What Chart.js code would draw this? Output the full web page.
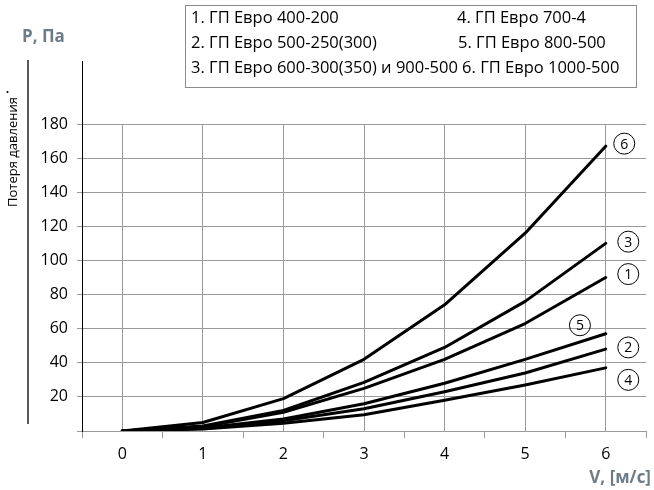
<!DOCTYPE html>
<html>
<head>
<meta charset="utf-8">
<script src="https://cdn.jsdelivr.net/npm/chart.js@4.4.1/dist/chart.umd.min.js"></script>
<style>
  body { margin: 0; background: #fff; }
  #wrap { width: 654px; height: 490px; }
</style>
</head>
<body>
<div id="wrap"><canvas id="lossChart" width="654" height="490"></canvas></div>
<script>
// Data
const speeds = [0, 1, 2, 3, 4, 5, 6];
const series1 = [0, 2.5, 11, 25, 42, 63, 90];
const series2 = [0, 1.5, 6, 13, 23, 34, 48];
const series3 = [0, 3, 12, 28.5, 49, 76, 110];
const series4 = [0, 1.2, 4.5, 9.5, 18, 27, 37];
const series5 = [0, 1.8, 7, 16, 28, 42, 57];
const series6 = [0, 5, 19, 42, 74, 116, 167];

const xTicks = [0, 1, 2, 3, 4, 5, 6];
const yTicks = [0, 20, 40, 60, 80, 100, 120, 140, 160, 180];

const legendLines = [
  '1. ГП Евро 400-200',
  '2. ГП Евро 500-250(300)',
  '3. ГП Евро 600-300(350) и 900-500 6. ГП Евро 1000-500'
];
const legendLines2 = ['4. ГП Евро 700-4', '5. ГП Евро 800-500'];

// circled curve numbers (data units)
const markNums = ['6', '3', '1', '5', '2', '4'];
const markX = [6.23, 6.28, 6.28, 5.68, 6.28, 6.28];
const markY = [168.5, 111, 92, 62, 49, 30];

const allSeries = [series1, series2, series3, series4, series5, series6];
const FONT = '"Open Sans", sans-serif';
const GRID = '#9a9a9a';

const decor = {
  id: 'decor',
  afterDraw(chart) {
    const ctx = chart.ctx;
    const area = chart.chartArea;
    const xs = chart.scales.x, ys = chart.scales.y;
    ctx.save();

    // y axis line continues above the last gridline
    ctx.strokeStyle = '#000';
    ctx.lineWidth = 1;
    ctx.beginPath();
    ctx.moveTo(area.left + 0.5, 61);
    ctx.lineTo(area.left + 0.5, area.top);
    ctx.stroke();

    // left bracket line
    ctx.lineWidth = 1.3;
    ctx.beginPath();
    ctx.moveTo(28, 60);
    ctx.lineTo(28, 424);
    ctx.stroke();

    // y title (rotated)
    ctx.fillStyle = '#000';
    ctx.font = '13px ' + FONT;
    ctx.save();
    ctx.translate(17, 152);
    ctx.rotate(-Math.PI / 2);
    ctx.textAlign = 'center';
    ctx.textBaseline = 'alphabetic';
    ctx.fillText('Потеря давления', 0, 0);
    ctx.restore();
    ctx.beginPath();
    ctx.arc(7.5, 92, 1.1, 0, Math.PI * 2);
    ctx.fill();

    // axis names
    ctx.fillStyle = '#6e7b88';
    ctx.font = 'bold 17px ' + FONT;
    ctx.textAlign = 'left';
    ctx.fillText('P, Па', 22, 42);
    ctx.textAlign = 'right';
    ctx.fillText('V, [м/с]', 651, 483);

    // legend box
    ctx.strokeStyle = '#8c8c8c';
    ctx.lineWidth = 1;
    ctx.strokeRect(185.5, 5.5, 451, 82);
    ctx.fillStyle = '#000';
    ctx.font = '16.5px ' + FONT;
    ctx.textAlign = 'left';
    legendLines.forEach((t, i) => ctx.fillText(t, 191, 23 + i * 25));
    legendLines2.forEach((t, i) => ctx.fillText(t, 457 + i, 23 + i * 25));

    // circled numbers
    ctx.font = '14px ' + FONT;
    ctx.textAlign = 'center';
    ctx.textBaseline = 'middle';
    markNums.forEach((n, i) => {
      const px = xs.getPixelForValue(markX[i]);
      const py = ys.getPixelForValue(markY[i]);
      ctx.beginPath();
      ctx.arc(px, py, 10.5, 0, Math.PI * 2);
      ctx.strokeStyle = '#000';
      ctx.stroke();
      ctx.fillText(n, px, py + 1);
    });
    ctx.restore();
  }
};

const ctx = document.getElementById('lossChart').getContext('2d');
new Chart(ctx, {
  type: 'line',
  data: {
    datasets: allSeries.map((s, i) => ({
      label: String(i + 1),
      data: speeds.map((v, j) => ({ x: v, y: s[j] })),
      borderColor: '#000',
      borderWidth: 3,
      borderCapStyle: 'round',
      borderJoinStyle: 'round',
      pointRadius: 0,
      tension: 0
    }))
  },
  options: {
    responsive: false,
    animation: false,
    layout: { padding: { top: 124, right: 8, left: 0, bottom: 0 } },
    plugins: { legend: { display: false }, tooltip: { enabled: false } },
    scales: {
      x: {
        type: 'linear',
        min: -0.5,
        max: 6.5,
        afterBuildTicks(s) {
          const t = [];
          for (let v = -0.5; v <= 6.5; v += 0.5) t.push({ value: v });
          s.ticks = t;
        },
        afterFit(s) { s.height = 59; },
        ticks: {
          autoSkip: false,
          maxRotation: 0,
          padding: 7,
          color: '#000',
          font: { family: FONT, size: 16 },
          callback: v => (xTicks.includes(v) ? String(v) : '')
        },
        grid: {
          color: c => (Number.isInteger(c.tick.value) ? GRID : 'rgba(0,0,0,0)'),
          tickColor: c => (Number.isInteger(c.tick.value) ? 'rgba(0,0,0,0)' : GRID),
          tickLength: 7
        },
        border: { color: GRID }
      },
      y: {
        min: 0,
        max: 180,
        afterBuildTicks(s) { s.ticks = yTicks.map(v => ({ value: v })); },
        afterFit(s) { s.width = 82; },
        ticks: {
          padding: 9,
          color: '#000',
          font: { family: FONT, size: 16 },
          callback: v => (v === 0 ? '' : String(v))
        },
        grid: { color: GRID, tickColor: GRID, tickLength: 5 },
        border: { color: '#000' }
      }
    }
  },
  plugins: [decor]
});
</script>
</body>
</html>
